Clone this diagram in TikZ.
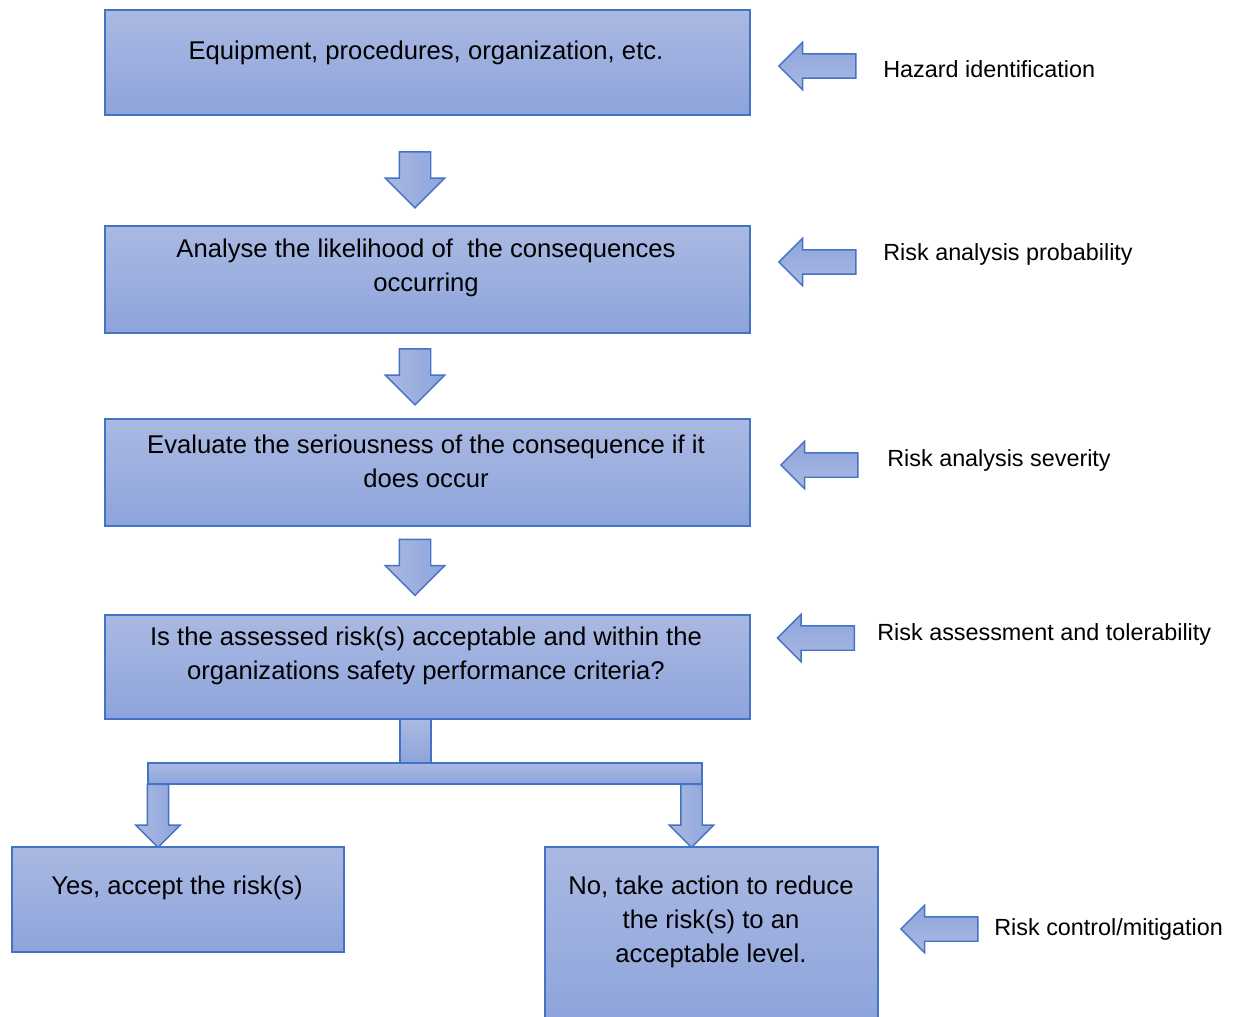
\documentclass[tikz,border=0pt]{standalone}
\usepackage{fontspec}
\setmainfont{Liberation Sans}
\usetikzlibrary{shapes.arrows}
\definecolor{boxline}{HTML}{4472C4}
\definecolor{boxtop}{HTML}{AAB9E2}
\definecolor{boxbot}{HTML}{8DA4DB}
\tikzset{
  box/.style={draw=boxline, line width=0.8pt, top color=boxtop, bottom color=boxbot, inner sep=0pt},
  boxtext/.style={align=center, font=\fontsize{14.6}{19.4}\selectfont},
  sidetext/.style={anchor=west, inner sep=0pt, font=\fontsize{13.3}{16}\selectfont},
  blockarrow/.style={single arrow, draw=boxline, line width=0.8pt, single arrow head indent=0pt, single arrow tip angle=90},
  downarrow/.style={blockarrow, left color=boxtop, right color=boxbot, rotate=-90, inner sep=0.3cm, single arrow head extend=0.28cm, minimum height=1.12cm},
  splitarrow/.style={blockarrow, left color=boxtop, right color=boxbot, rotate=-90, inner sep=0.2cm, single arrow head extend=0.23cm, minimum height=1.26cm},
  sidearrow/.style={blockarrow, top color=boxbot, bottom color=boxtop, rotate=180, inner sep=0.23cm, single arrow head extend=0.23cm, minimum height=1.54cm}
}
\begin{document}
\begin{tikzpicture}[x=0.02cm, y=-0.02cm]
\useasboundingbox (0,0) rectangle (1234,1017);
\clip (0,0) rectangle (1234,1017);
% boxes
\node[box, minimum width=12.9cm, minimum height=2.1cm] (equip) at (427.5,62.5) {};
\node[box, minimum width=12.9cm, minimum height=2.14cm] (likely) at (427.5,279.5) {};
\node[box, minimum width=12.9cm, minimum height=2.14cm] (severe) at (427.5,472.5) {};
\node[box, minimum width=12.9cm, minimum height=2.08cm] (accept) at (427.5,667) {};
\node[box, minimum width=6.64cm, minimum height=2.1cm] (yes) at (178,899.5) {};
\node[box, minimum width=6.66cm, minimum height=3.5cm] (no) at (711.5,934.5) {};
% box texts
\node[boxtext] (equipT) at (426,52.5) {Equipment, procedures, organization, etc.};
\node[boxtext] (likelyT) at (426,267.5) {Analyse the likelihood of\ \ the consequences\\occurring};
\node[boxtext] (severeT) at (426,461.5) {Evaluate the seriousness of the consequence if it\\does occur};
\node[boxtext] (acceptT) at (426,656) {Is the assessed risk(s) acceptable and within the\\organizations safety performance criteria?};
\node[boxtext] (yesT) at (177,887.5) {Yes, accept the risk(s)};
\node[boxtext] (noT) at (711,921.5) {No, take action to reduce\\the risk(s) to an\\acceptable level.};
% arrows between boxes
\node[downarrow] (d1) at (415,172) {};
\node[downarrow] (d2) at (415,369) {};
\node[downarrow] (d3) at (415,559.5) {};
% split
\node[box, minimum width=0.62cm, minimum height=0.88cm] (stem) at (415.5,741) {};
\node[box, minimum width=11.08cm, minimum height=0.42cm] (bar) at (425,773.5) {};
\node[splitarrow] (dyes) at (158,810.5) {};
\node[splitarrow] (dno) at (691.5,810.5) {};
% side arrows and labels
\node[sidearrow] (a1) at (823.5,66) {};
\node[sidearrow] (a2) at (823.5,262) {};
\node[sidearrow] (a3) at (825.5,465) {};
\node[sidearrow] (a4) at (822,638) {};
\node[sidearrow] (a5) at (945.5,929) {};
\node[sidetext] (hazard) at (883,69) {Hazard identification};
\node[sidetext] (prob) at (883,254) {Risk analysis probability};
\node[sidetext] (sev) at (887,460) {Risk analysis severity};
\node[sidetext] (toler) at (877,634) {Risk assessment and tolerability};
\node[sidetext] (mitig) at (994,929) {Risk control/mitigation};
\end{tikzpicture}
\end{document}
